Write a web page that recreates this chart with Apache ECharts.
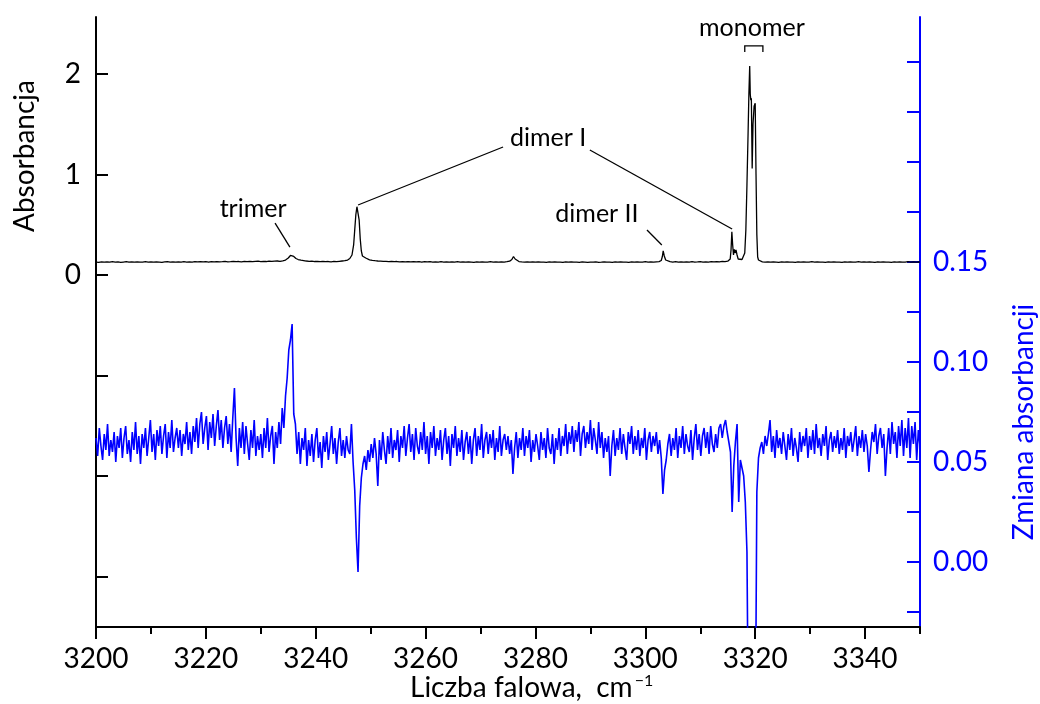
<!DOCTYPE html>
<html><head><meta charset="utf-8">
<script src="https://cdn.jsdelivr.net/npm/echarts@6/dist/echarts.min.js"></script>
<style>html,body{margin:0;padding:0;background:#fff}#c{width:1040px;height:704px}</style>
</head><body><div id="c"></div>
<script>
// ---- tick / label values ----
const xTickValues = [3200,3220,3240,3260,3280,3300,3320,3340];
const xMinorTickValues = [3210,3230,3250,3270,3290,3310,3330,3350];
const leftTickValues = [-3,-2,-1,0,1,2];
const leftLabelValues = [0,1,2];
const rightTickValues = [-0.025,0,0.025,0.05,0.075,0.1,0.125,0.15,0.175,0.2,0.225,0.25];
const rightLabelValues = [0,0.05,0.1,0.15];

// ---- absorbance spectrum (left axis): [wavenumber, absorbance] ----
const absorbance = [
[3200,.130],[3200.5,.127],[3201,.132],[3201.5,.129],[3202,.131],[3202.5,.128],[3203,.133],[3203.5,.129],[3204,.131],[3204.5,.127],
[3205,.130],[3205.5,.133],[3206,.128],[3206.5,.131],[3207,.129],[3207.5,.132],[3208,.128],[3208.5,.130],[3209,.133],[3209.5,.129],
[3210,.131],[3210.5,.128],[3211,.132],[3211.5,.130],[3212,.127],[3212.5,.131],[3213,.133],[3213.5,.129],[3214,.131],[3214.5,.128],
[3215,.132],[3215.5,.130],[3216,.134],[3216.5,.130],[3217,.132],[3217.5,.129],[3218,.133],[3218.5,.131],[3219,.135],[3219.5,.131],
[3220,.133],[3220.5,.130],[3221,.134],[3221.5,.132],[3222,.135],[3222.5,.131],[3223,.133],[3223.5,.136],[3224,.132],[3224.5,.134],
[3225,.137],[3225.5,.133],[3226,.135],[3226.5,.132],[3227,.136],[3227.5,.134],[3228,.137],[3228.5,.133],[3229,.136],[3229.5,.138],
[3230,.134],[3230.5,.137],[3231,.135],[3231.5,.139],[3232,.136],[3232.5,.138],[3233,.140],[3233.5,.137],[3234,.142],[3234.5,.150],
[3235,.170],[3235.4,.195],[3235.7,.205],[3236,.185],[3236.4,.165],[3236.8,.155],[3237.3,.148],[3237.8,.144],[3238.3,.140],[3238.8,.137],
[3239.3,.139],[3239.8,.135],[3240.3,.137],[3240.8,.134],[3241.3,.136],[3241.8,.133],[3242.3,.135],[3242.8,.132],[3243.3,.136],[3243.8,.134],
[3244.3,.137],[3244.8,.140],[3245.3,.143],[3245.8,.150],[3246.2,.165],[3246.6,.20],[3246.9,.30],[3247.1,.45],[3247.3,.60],[3247.5,.68],
[3247.7,.67],[3247.9,.55],[3248.1,.36],[3248.3,.24],[3248.5,.19],[3248.8,.175],[3249.1,.17],[3249.4,.16],[3249.8,.152],[3250.3,.147],
[3250.8,.143],[3251.3,.140],[3251.8,.138],[3252.3,.136],[3252.8,.137],[3253.3,.134],[3253.8,.136],[3254.3,.133],[3254.8,.135],[3255.3,.132],
[3255.8,.134],[3256.3,.131],[3256.8,.134],[3257.3,.132],[3257.8,.135],[3258.3,.131],[3258.8,.133],[3259.3,.130],[3259.8,.134],[3260.3,.131],
[3260.8,.133],[3261.3,.129],[3261.8,.132],[3262.3,.130],[3262.8,.133],[3263.3,.129],[3263.8,.131],[3264.3,.128],[3264.8,.132],[3265.3,.130],
[3265.8,.133],[3266.3,.129],[3266.8,.131],[3267.3,.128],[3267.8,.132],[3268.3,.130],[3268.8,.127],[3269.3,.131],[3269.8,.129],[3270.3,.132],
[3270.8,.128],[3271.3,.130],[3271.8,.133],[3272.3,.129],[3272.8,.131],[3273.3,.128],[3273.8,.132],[3274.3,.130],[3274.8,.133],[3275.3,.138],
[3275.7,.155],[3276.0,.185],[3276.3,.160],[3276.6,.142],[3277.0,.135],[3277.5,.131],[3278,.129],[3278.5,.132],[3279,.128],[3279.5,.131],
[3280,.129],[3280.5,.132],[3281,.128],[3281.5,.130],[3282,.127],[3282.5,.131],[3283,.129],[3283.5,.132],[3284,.128],[3284.5,.130],
[3285,.127],[3285.5,.131],[3286,.129],[3286.5,.132],[3287,.128],[3287.5,.130],[3288,.127],[3288.5,.131],[3289,.129],[3289.5,.126],
[3290,.130],[3290.5,.128],[3291,.131],[3291.5,.127],[3292,.129],[3292.5,.132],[3293,.128],[3293.5,.130],[3294,.127],[3294.5,.131],
[3295,.129],[3295.5,.132],[3296,.128],[3296.5,.130],[3297,.127],[3297.5,.131],[3298,.129],[3298.5,.132],[3299,.128],[3299.5,.130],
[3300,.133],[3300.5,.129],[3301,.131],[3301.5,.128],[3302,.132],[3302.5,.134],[3302.9,.145],[3303.1,.185],[3303.25,.240],[3303.45,.190],
[3303.7,.150],[3304.0,.138],[3304.5,.133],[3305,.130],[3305.5,.133],[3306,.129],[3306.5,.131],[3307,.128],[3307.5,.132],[3308,.130],
[3308.5,.133],[3309,.129],[3309.5,.131],[3310,.134],[3310.5,.130],[3311,.132],[3311.5,.129],[3312,.133],[3312.5,.131],[3313,.134],
[3313.5,.132],[3314,.136],[3314.5,.134],[3315,.138],[3315.3,.142],[3315.45,.160],[3315.6,.25],[3315.75,.43],[3315.9,.30],[3316.05,.20],
[3316.2,.255],[3316.35,.22],[3316.5,.25],[3316.7,.20],[3316.9,.16],[3317.2,.15],[3317.6,.155],[3317.9,.165],[3318.1,.22],[3318.3,.45],
[3318.5,.90],[3318.7,1.40],[3318.85,1.80],[3319.0,2.08],[3319.1,1.80],[3319.2,1.74],[3319.3,1.76],[3319.45,1.06],[3319.6,1.50],[3319.8,1.68],
[3320.0,1.71],[3320.15,1.00],[3320.3,.40],[3320.45,.18],[3320.6,.15],[3320.9,.135],
[3321.3,.132],[3321.8,.129],[3322.3,.131],[3322.8,.128],[3323.3,.132],[3323.8,.130],[3324.3,.127],[3324.8,.131],[3325.3,.129],[3325.8,.132],
[3326.3,.128],[3326.8,.130],[3327.3,.127],[3327.8,.131],[3328.3,.129],[3328.8,.132],[3329.3,.128],[3329.8,.130],[3330.3,.133],[3330.8,.129],
[3331.3,.131],[3331.8,.128],[3332.3,.130],[3332.8,.127],[3333.3,.131],[3333.8,.129],[3334.3,.132],[3334.8,.128],[3335.3,.130],[3335.8,.127],
[3336.3,.131],[3336.8,.129],[3337.3,.132],[3337.8,.128],[3338.3,.130],[3338.8,.133],[3339.3,.129],[3339.8,.131],[3340.3,.128],[3340.8,.132],
[3341.3,.130],[3341.8,.127],[3342.3,.131],[3342.8,.129],[3343.3,.132],[3343.8,.128],[3344.3,.130],[3344.8,.127],[3345.3,.131],[3345.8,.129],
[3346.3,.132],[3346.8,.128],[3347.3,.130],[3347.8,.133],[3348.3,.129],[3348.8,.131],[3349.3,.128],[3349.8,.132],[3350,.130]
];

// ---- absorbance change (right axis), sampled every 0.3 cm-1 from 3200 ----
const changeStart = 3200;
const changeStep = 0.3;
const absorbanceChange = [
.062,.053,.067,.058,.051,.064,.056,.069,.053,.061,
.055,.065,.050,.063,.057,.067,.052,.062,.068,.054,
.061,.050,.065,.056,.070,.054,.063,.049,.064,.057,
.067,.053,.062,.071,.055,.064,.051,.066,.058,.068,
.054,.063,.069,.052,.065,.057,.071,.055,.062,.067,
.057,.066,.053,.064,.059,.070,.056,.065,.054,.068,
.060,.072,.057,.069,.075,.059,.067,.073,.056,.070,
.062,.074,.058,.068,.076,.061,.071,.057,.067,.073,
.059,.069,.055,.072,.087,.062,.048,.067,.057,.070,
.054,.068,.059,.051,.066,.057,.071,.053,.063,.056,
.064,.052,.067,.057,.072,.055,.063,.068,.049,.065,
.057,.070,.059,.077,.067,.083,.092,.106,.111,.119,
.074,.069,.054,.065,.049,.062,.056,.067,.048,.061,
.053,.064,.050,.061,.067,.052,.060,.047,.063,.055,
.065,.051,.059,.068,.054,.062,.049,.060,.067,.053,
.061,.052,.063,.056,.054,.069,.050,.036,.012,-.005,
.028,.042,.049,.053,.046,.056,.050,.059,.052,.062,
.054,.038,.061,.051,.065,.056,.049,.063,.054,.067,
.052,.061,.056,.066,.050,.063,.057,.068,.053,.062,
.069,.055,.064,.051,.067,.058,.054,.065,.056,.070,
.054,.063,.049,.065,.057,.068,.053,.062,.056,.066,
.051,.061,.067,.054,.063,.048,.064,.057,.068,.053,
.062,.055,.066,.051,.060,.065,.054,.063,.049,.061,
.067,.053,.063,.056,.069,.052,.061,.065,.054,.064,
.057,.066,.051,.062,.055,.068,.053,.061,.064,.056,
.063,.054,.061,.044,.057,.065,.052,.062,.056,.067,
.053,.063,.057,.066,.050,.061,.055,.064,.058,.051,
.065,.056,.062,.052,.067,.057,.054,.064,.049,.062,
.056,.067,.053,.063,.058,.069,.054,.065,.059,.068,
.055,.066,.060,.070,.053,.064,.068,.057,.065,.059,
.071,.056,.067,.061,.054,.070,.057,.065,.052,.062,
.055,.063,.043,.058,.066,.053,.062,.056,.067,.054,
.064,.057,.051,.065,.059,.068,.054,.063,.056,.066,
.053,.062,.057,.067,.051,.061,.065,.055,.063,.058,
.065,.054,.061,.052,.034,.046,.051,.059,.064,.053,
.062,.056,.067,.052,.063,.057,.068,.054,.064,.058,
.055,.066,.051,.062,.069,.056,.064,.053,.063,.067,
.057,.065,.054,.068,.059,.055,.064,.057,.067,.069,
.062,.068,.071,.065,.060,.055,.025,.048,.060,.069,
.030,.051,.050,.043,.030,.005,-.1,-.1,-.1,-.1,
-.1,.035,.052,.057,.060,.054,.063,.058,.064,.071,
.055,.063,.052,.066,.057,.062,.054,.065,.058,.051,
.064,.056,.067,.053,.062,.057,.050,.065,.055,.063,
.058,.067,.052,.063,.056,.066,.054,.069,.057,.062,
.053,.064,.058,.068,.051,.061,.065,.055,.063,.057,
.066,.054,.062,.056,.067,.052,.063,.058,.065,.055,
.061,.068,.053,.063,.057,.066,.055,.064,.058,.045,
.056,.065,.060,.069,.054,.063,.067,.057,.064,.043,
.057,.067,.054,.070,.059,.065,.052,.068,.058,.071,
.053,.067,.057,.072,.052,.068,.059,.070,.051,.066,
.058
];

// ---- annotations (data coordinates on left axis) ----
const annotationLabels = [
  {text:'trimer',   at:[3228.6, 0.657]},
  {text:'dimer I',  at:[3282.3, 1.363]},
  {text:'dimer II', at:[3291.2, 0.607]},
  {text:'monomer',  at:[3319.4, 2.458]}
];
const annotationLines = [
  [[3232.6,0.517],[3235.3,0.279]],
  [[3274.1,1.274],[3247.7,0.697]],
  [[3289.9,1.244],[3315.8,0.458]],
  [[3300.3,0.448],[3303.0,0.299]],
  [[3318.1,2.219],[3318.1,2.279],[3321.4,2.279],[3321.4,2.219]]
];

const FONT = 'Lato';
const BLUE = '#0000ff';
const changeData = absorbanceChange.map((v,i)=>[+(changeStart + i*changeStep).toFixed(1), v]);

const chart = echarts.init(document.getElementById('c'), null, {renderer:'canvas'});
chart.setOption({
  animation:false,
  backgroundColor:'#fff',
  grid:{left:96, right:120, top:17, bottom:77, containLabel:false},
  xAxis:[{
    type:'value', min:3200, max:3350, position:'bottom',
    axisLine:{show:true, onZero:false, lineStyle:{color:'#000', width:2}},
    axisTick:{show:true, inside:false, length:12, customValues:xTickValues, lineStyle:{color:'#000', width:2}},
    axisLabel:{show:true, customValues:xTickValues, margin:18, color:'#000', fontSize:28, fontFamily:FONT,
      formatter:v=>String(v)},
    splitLine:{show:false}
  },{
    type:'value', min:3200, max:3350, position:'bottom',
    axisLine:{show:false, onZero:false},
    axisTick:{show:true, inside:false, length:7, customValues:xMinorTickValues, lineStyle:{color:'#000', width:2}},
    axisLabel:{show:false},
    splitLine:{show:false}
  }],
  yAxis:[{
    type:'value', min:-3.5, max:2.567, position:'left',
    axisLine:{show:true, onZero:false, lineStyle:{color:'#000', width:2}},
    axisTick:{show:true, inside:true, length:12, customValues:leftTickValues, lineStyle:{color:'#000', width:2}},
    axisLabel:{show:true, customValues:leftLabelValues, margin:15, color:'#000', fontSize:28, fontFamily:FONT,
      formatter:v=>String(v)},
    splitLine:{show:false}
  },{
    type:'value', min:-0.0325, max:0.2725, position:'right',
    axisLine:{show:true, onZero:false, lineStyle:{color:BLUE, width:2}},
    axisTick:{show:true, inside:true, length:13, customValues:rightTickValues, lineStyle:{color:BLUE, width:2}},
    axisLabel:{show:true, customValues:rightLabelValues, margin:13, color:BLUE, fontSize:28, fontFamily:FONT,
      formatter:v=>Number(v).toFixed(2)},
    splitLine:{show:false}
  }],
  series:[{
    type:'line', name:'Zmiana absorbancji', xAxisIndex:0, yAxisIndex:1, data:changeData,
    showSymbol:false, symbol:'none', clip:true, lineStyle:{color:BLUE, width:1.6}
  },{
    type:'line', name:'Absorbancja', xAxisIndex:0, yAxisIndex:0, data:absorbance,
    showSymbol:false, symbol:'none', clip:true, lineStyle:{color:'#000', width:1.3}
  }]
});

const toPx = p => chart.convertToPixel({xAxisIndex:0, yAxisIndex:0}, p);
const ctx = document.createElement('canvas').getContext('2d');
ctx.font = '28px ' + FONT;
const mainName = 'Liczba falowa,  cm';
const mainW = ctx.measureText(mainName).width;

const graphics = [];
annotationLabels.forEach(a=>{
  const p = toPx(a.at);
  graphics.push({type:'text', x:p[0], y:p[1], silent:true,
    style:{text:a.text, fill:'#000', fontSize:25, fontFamily:FONT, align:'center', verticalAlign:'middle'}});
});
annotationLines.forEach(l=>{
  graphics.push({type:'polyline', silent:true, shape:{points:l.map(toPx)},
    style:{stroke:'#000', lineWidth:1.3, fill:null}});
});
graphics.push({type:'text', x:25, y:156, rotation:Math.PI/2, silent:true,
  style:{text:'Absorbancja', fill:'#000', fontSize:28, fontFamily:FONT, align:'center', verticalAlign:'middle'}});
graphics.push({type:'text', x:1024, y:422, rotation:Math.PI/2, silent:true,
  style:{text:'Zmiana absorbancji', fill:BLUE, fontSize:28, fontFamily:FONT, align:'center', verticalAlign:'middle'}});
graphics.push({type:'text', x:410, y:688, silent:true,
  style:{text:mainName, fill:'#000', fontSize:28, fontFamily:FONT, align:'left', verticalAlign:'middle'}});
graphics.push({type:'text', x:410 + mainW + 2, y:681, silent:true,
  style:{text:'\u22121', fill:'#000', fontSize:16, fontFamily:FONT, align:'left', verticalAlign:'middle'}});
chart.setOption({graphic:graphics});
</script></body></html>
